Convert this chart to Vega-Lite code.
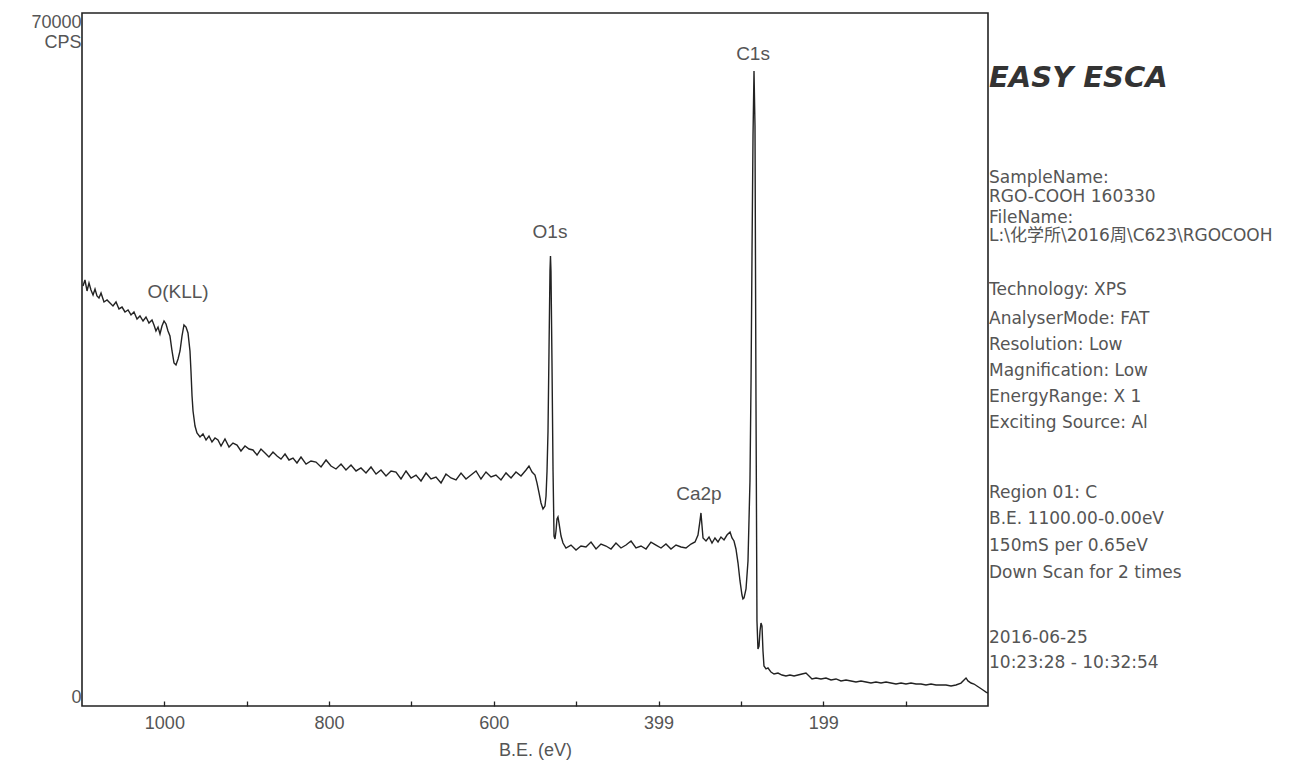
{
  "$schema": "https://vega.github.io/schema/vega-lite/v6.json",
  "background": "white",
  "padding": {"left": 30, "top": 12, "right": 0, "bottom": 0},
  "config": {"font": "Liberation Sans, Noto Sans CJK SC", "view": {"stroke": null}, "concat": {"spacing": 0}},
  "datasets": {
    "spectrum": [
      {"be":1098.8,"cps":42420},{"be":1096.4,"cps":43030},{"be":1093.9,"cps":41920},{"be":1091.5,"cps":42730},{"be":1089.1,"cps":42020},{"be":1086.6,"cps":41520},{"be":1084.2,"cps":42120},{"be":1081.8,"cps":41420},{"be":1079.4,"cps":41220},{"be":1076.9,"cps":41720},{"be":1073.3,"cps":40810},{"be":1069.6,"cps":41010},{"be":1066.0,"cps":40710},{"be":1062.4,"cps":40410},{"be":1058.7,"cps":40810},{"be":1055.1,"cps":40110},{"be":1051.4,"cps":40300},{"be":1047.8,"cps":39800},{"be":1044.1,"cps":40000},{"be":1040.5,"cps":39500},{"be":1036.9,"cps":39800},{"be":1033.2,"cps":39090},{"be":1029.6,"cps":39400},{"be":1025.9,"cps":38890},{"be":1022.3,"cps":39290},{"be":1018.7,"cps":38690},{"be":1015.0,"cps":38990},{"be":1012.6,"cps":38490},{"be":1010.2,"cps":37880},{"be":1007.7,"cps":38280},{"be":1005.3,"cps":37580},{"be":1002.9,"cps":38380},{"be":1000.4,"cps":38890},{"be":998.0,"cps":38590},{"be":995.6,"cps":37880},{"be":993.2,"cps":37370},{"be":990.7,"cps":35860},{"be":988.3,"cps":34650},{"be":985.9,"cps":34440},{"be":983.4,"cps":35050},{"be":981.0,"cps":35860},{"be":978.6,"cps":37370},{"be":976.2,"cps":38490},{"be":973.7,"cps":38280},{"be":971.3,"cps":37680},{"be":968.9,"cps":35860},{"be":967.7,"cps":33840},{"be":966.4,"cps":31310},{"be":965.2,"cps":29800},{"be":962.8,"cps":28280},{"be":960.4,"cps":27580},{"be":956.7,"cps":27170},{"be":953.1,"cps":27470},{"be":949.4,"cps":26870},{"be":945.8,"cps":27270},{"be":942.2,"cps":26670},{"be":938.5,"cps":27070},{"be":934.9,"cps":26870},{"be":931.2,"cps":26260},{"be":926.4,"cps":26970},{"be":921.5,"cps":26160},{"be":916.7,"cps":26560},{"be":911.8,"cps":26360},{"be":907.0,"cps":25760},{"be":902.1,"cps":26260},{"be":897.2,"cps":25960},{"be":892.4,"cps":25860},{"be":887.5,"cps":25350},{"be":882.7,"cps":25960},{"be":877.8,"cps":25550},{"be":873.0,"cps":25150},{"be":868.1,"cps":25650},{"be":863.2,"cps":25250},{"be":858.4,"cps":24940},{"be":853.5,"cps":25450},{"be":848.7,"cps":24850},{"be":843.8,"cps":25050},{"be":839.0,"cps":24550},{"be":834.1,"cps":25150},{"be":828.0,"cps":24440},{"be":822.0,"cps":24750},{"be":815.9,"cps":24640},{"be":809.8,"cps":24140},{"be":803.7,"cps":24850},{"be":797.7,"cps":24240},{"be":791.6,"cps":23940},{"be":785.5,"cps":24440},{"be":779.5,"cps":23840},{"be":773.4,"cps":24340},{"be":767.3,"cps":23740},{"be":761.3,"cps":24040},{"be":755.2,"cps":23530},{"be":749.1,"cps":24140},{"be":743.0,"cps":23430},{"be":737.0,"cps":23840},{"be":730.9,"cps":23230},{"be":724.8,"cps":23740},{"be":718.8,"cps":23630},{"be":712.7,"cps":22930},{"be":706.6,"cps":23740},{"be":700.5,"cps":23030},{"be":694.5,"cps":23330},{"be":688.4,"cps":22730},{"be":682.3,"cps":23530},{"be":676.3,"cps":22930},{"be":670.2,"cps":23130},{"be":664.1,"cps":22530},{"be":658.1,"cps":23430},{"be":652.0,"cps":23030},{"be":645.9,"cps":22830},{"be":639.8,"cps":23530},{"be":633.8,"cps":22930},{"be":627.7,"cps":23330},{"be":621.6,"cps":23740},{"be":615.6,"cps":22930},{"be":609.5,"cps":23640},{"be":603.4,"cps":23130},{"be":597.4,"cps":23330},{"be":591.3,"cps":22830},{"be":585.2,"cps":23540},{"be":579.1,"cps":23030},{"be":573.1,"cps":23640},{"be":567.0,"cps":23230},{"be":560.9,"cps":23840},{"be":557.3,"cps":24240},{"be":553.6,"cps":23640},{"be":550.0,"cps":23330},{"be":547.6,"cps":22530},{"be":545.1,"cps":21520},{"be":542.7,"cps":20510},{"be":540.3,"cps":19900},{"be":537.9,"cps":20200},{"be":536.6,"cps":21210},{"be":535.4,"cps":23740},{"be":534.2,"cps":27780},{"be":533.0,"cps":35860},{"be":531.8,"cps":43940},{"be":531.2,"cps":45450},{"be":530.6,"cps":43940},{"be":529.4,"cps":34850},{"be":528.1,"cps":23740},{"be":526.9,"cps":17170},{"be":525.7,"cps":16870},{"be":524.5,"cps":17680},{"be":523.3,"cps":18890},{"be":522.1,"cps":19090},{"be":520.9,"cps":18490},{"be":518.4,"cps":17170},{"be":516.0,"cps":16460},{"be":512.4,"cps":15960},{"be":506.3,"cps":16260},{"be":500.2,"cps":15760},{"be":494.2,"cps":16160},{"be":488.1,"cps":16060},{"be":482.0,"cps":16560},{"be":475.9,"cps":15860},{"be":469.9,"cps":16360},{"be":463.8,"cps":16160},{"be":457.7,"cps":15860},{"be":451.7,"cps":16460},{"be":445.6,"cps":15960},{"be":439.5,"cps":16260},{"be":433.4,"cps":16660},{"be":427.4,"cps":15960},{"be":421.3,"cps":16160},{"be":415.2,"cps":15860},{"be":409.2,"cps":16560},{"be":403.1,"cps":16260},{"be":397.0,"cps":15960},{"be":391.0,"cps":16360},{"be":384.9,"cps":15860},{"be":378.8,"cps":16260},{"be":372.7,"cps":16060},{"be":366.7,"cps":15960},{"be":360.6,"cps":16360},{"be":355.7,"cps":16570},{"be":352.1,"cps":17270},{"be":349.7,"cps":18690},{"be":348.5,"cps":19500},{"be":347.2,"cps":18180},{"be":346.0,"cps":16970},{"be":342.4,"cps":16670},{"be":338.7,"cps":17070},{"be":335.1,"cps":16460},{"be":331.5,"cps":16970},{"be":327.8,"cps":16570},{"be":324.2,"cps":17070},{"be":320.5,"cps":16770},{"be":316.9,"cps":17270},{"be":313.2,"cps":17580},{"be":310.8,"cps":16970},{"be":308.4,"cps":16670},{"be":306.0,"cps":15860},{"be":303.5,"cps":14440},{"be":301.1,"cps":12630},{"be":298.7,"cps":11210},{"be":297.5,"cps":10810},{"be":296.2,"cps":10910},{"be":293.8,"cps":11820},{"be":291.4,"cps":14650},{"be":289.0,"cps":22730},{"be":287.7,"cps":32830},{"be":286.5,"cps":45960},{"be":285.3,"cps":57580},{"be":284.1,"cps":64140},{"be":282.9,"cps":58590},{"be":281.7,"cps":30810},{"be":280.5,"cps":8590},{"be":279.3,"cps":5760},{"be":278.0,"cps":6060},{"be":276.8,"cps":7580},{"be":275.6,"cps":8380},{"be":274.4,"cps":8080},{"be":273.2,"cps":5560},{"be":272.0,"cps":4040},{"be":269.5,"cps":3740},{"be":267.1,"cps":3840},{"be":263.5,"cps":3430},{"be":259.8,"cps":3230},{"be":255.0,"cps":3330},{"be":250.1,"cps":3130},{"be":245.3,"cps":3030},{"be":240.4,"cps":3130},{"be":235.5,"cps":3030},{"be":230.7,"cps":3130},{"be":225.8,"cps":3230},{"be":221.0,"cps":3330},{"be":217.3,"cps":3030},{"be":213.7,"cps":2730},{"be":208.8,"cps":2830},{"be":202.8,"cps":2730},{"be":196.7,"cps":2830},{"be":190.6,"cps":2630},{"be":184.5,"cps":2730},{"be":178.5,"cps":2530},{"be":172.4,"cps":2630},{"be":166.3,"cps":2530},{"be":160.3,"cps":2420},{"be":154.2,"cps":2530},{"be":148.1,"cps":2420},{"be":142.1,"cps":2320},{"be":136.0,"cps":2420},{"be":129.9,"cps":2320},{"be":123.8,"cps":2420},{"be":117.8,"cps":2320},{"be":111.7,"cps":2220},{"be":105.6,"cps":2320},{"be":99.6,"cps":2220},{"be":93.5,"cps":2320},{"be":87.4,"cps":2220},{"be":81.3,"cps":2220},{"be":75.3,"cps":2120},{"be":69.2,"cps":2220},{"be":63.1,"cps":2120},{"be":57.1,"cps":2120},{"be":51.0,"cps":2120},{"be":44.9,"cps":2020},{"be":38.9,"cps":2120},{"be":32.8,"cps":2320},{"be":29.1,"cps":2630},{"be":26.7,"cps":2830},{"be":24.3,"cps":2530},{"be":20.6,"cps":2320},{"be":17.0,"cps":2220},{"be":13.4,"cps":2020},{"be":9.7,"cps":1820},{"be":6.1,"cps":1620},{"be":2.4,"cps":1410},{"be":0.0,"cps":1310}
    ],
    "peaks": [
      {"label":"O(KLL)","be":983.4,"cps":41820},
      {"label":"O1s","be":531.8,"cps":47880},
      {"label":"Ca2p","be":351.0,"cps":21410},
      {"label":"C1s","be":285.3,"cps":65860}
    ],
    "info": [
      {"kind":"title","text":"EASY ESCA","line":2.5,"col":0},
      {"kind":"body","text":"SampleName:","line":6.35,"col":0},
      {"kind":"body","text":"RGO-COOH 160330","line":7.08,"col":0},
      {"kind":"body","text":"FileName:","line":7.88,"col":0},
      {"kind":"body","text":"L:\\化学所\\2016周\\C623\\RGOCOOH","line":8.58,"col":0},
      {"kind":"body","text":"Technology: XPS","line":10.65,"col":0},
      {"kind":"body","text":"AnalyserMode: FAT","line":11.77,"col":0},
      {"kind":"body","text":"Resolution: Low","line":12.77,"col":0},
      {"kind":"body","text":"Magnification: Low","line":13.77,"col":0},
      {"kind":"body","text":"EnergyRange: X 1","line":14.77,"col":0},
      {"kind":"body","text":"Exciting Source: Al","line":15.77,"col":0},
      {"kind":"body","text":"Region 01: C","line":18.46,"col":0},
      {"kind":"body","text":"B.E. 1100.00-0.00eV","line":19.46,"col":0},
      {"kind":"body","text":"150mS per 0.65eV","line":20.5,"col":0},
      {"kind":"body","text":"Down Scan for 2 times","line":21.54,"col":0},
      {"kind":"body","text":"2016-06-25","line":24.04,"col":0},
      {"kind":"body","text":"10:23:28 - 10:32:54","line":25.0,"col":0}
    ]
  },
  "hconcat": [
    {
      "width": 906,
      "height": 693,
      "view": {"stroke": "#222", "strokeWidth": 1.6},
      "layer": [
        {
          "data": {"name": "spectrum"},
          "mark": {"type": "line", "color": "#222", "strokeWidth": 1.4, "clip": true},
          "encoding": {
            "x": {
              "field": "be", "type": "quantitative",
              "scale": {"domain": [1100, 0], "nice": false, "zero": false},
              "axis": {
                "values": [1000, 900, 800, 700, 600, 500, 400, 300, 200, 100],
                "format": "d",
                "labelExpr": "datum.value == 400 ? '399' : (datum.value == 200 ? '199' : (datum.value % 200 == 0 ? datum.label : ''))",
                "tickSize": -5, "tickColor": "#222", "tickWidth": 1.3,
                "domain": false, "grid": false,
                "labelFontSize": 18, "labelColor": "#555", "labelPadding": 13,
                "title": "B.E. (eV)", "titleFontSize": 18, "titleFontWeight": "normal", "titleColor": "#555", "titlePadding": 9
              }
            },
            "y": {
              "field": "cps", "type": "quantitative",
              "scale": {"domain": [0, 70000], "nice": false},
              "axis": {
                "values": [0, 70000], "format": "d",
                "ticks": false, "domain": false, "grid": false,
                "labelFlush": true, "labelPadding": 1,
                "labelFontSize": 18, "labelColor": "#555",
                "title": "CPS", "titleAngle": 0, "titleAlign": "right", "titleBaseline": "top",
                "titleX": -1, "titleY": 20,
                "titleFontSize": 18, "titleFontWeight": "normal", "titleColor": "#555"
              }
            }
          }
        },
        {
          "data": {"name": "peaks"},
          "mark": {"type": "text", "fontSize": 19, "color": "#555", "align": "center", "baseline": "middle"},
          "encoding": {
            "x": {"field": "be", "type": "quantitative"},
            "y": {"field": "cps", "type": "quantitative"},
            "text": {"field": "label"}
          }
        }
      ]
    },
    {
      "width": 320,
      "height": 693,
      "data": {"name": "info"},
      "encoding": {
        "x": {"field": "col", "type": "quantitative", "scale": {"domain": [0, 1]}, "axis": null},
        "y": {"field": "line", "type": "quantitative", "scale": {"domain": [0, 26.65], "reverse": true, "nice": false, "zero": false}, "axis": null},
        "text": {"field": "text"}
      },
      "layer": [
        {
          "transform": [{"filter": "datum.kind == 'title'"}],
          "mark": {"type": "text", "align": "left", "baseline": "middle", "font": "DejaVu Sans", "fontSize": 29, "fontWeight": "bold", "fontStyle": "italic", "color": "#333"}
        },
        {
          "transform": [{"filter": "datum.kind == 'body'"}],
          "mark": {"type": "text", "align": "left", "baseline": "middle", "font": "DejaVu Sans, Noto Sans CJK SC", "fontSize": 17, "color": "#555"}
        }
      ]
    }
  ]
}
